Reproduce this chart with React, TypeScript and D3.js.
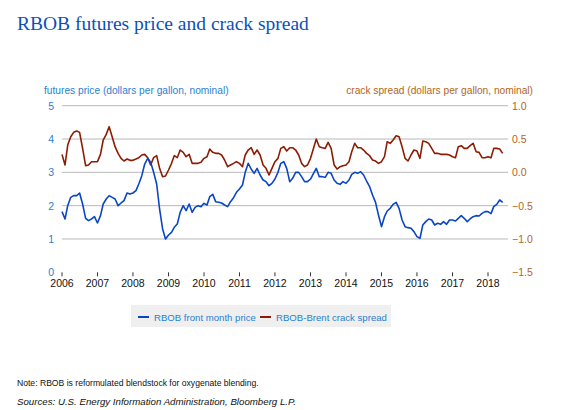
import React from "react";
import * as d3 from "d3";

// monthly values, Jan 2006 – Jun 2018
const rbobPrice: number[] = [
  // 2006
  1.82, 1.6, 2.0, 2.25, 2.3, 2.3, 2.38, 2.05, 1.62, 1.55, 1.6, 1.67,
  // 2007
  1.48, 1.7, 2.05, 2.2, 2.3, 2.25, 2.2, 2.0, 2.08, 2.15, 2.38, 2.35,
  // 2008
  2.38, 2.45, 2.65, 2.9, 3.25, 3.42, 3.3, 3.0, 2.65, 1.9, 1.3, 1.0,
  // 2009
  1.12, 1.2, 1.35, 1.45, 1.8, 2.0, 1.85, 2.05, 1.8, 1.95, 2.0, 1.97,
  // 2010
  2.07, 2.02, 2.27, 2.34, 2.12, 2.1, 2.08, 2.02, 1.97, 2.12, 2.24, 2.4,
  // 2011
  2.5, 2.62, 3.0, 3.27, 3.1, 2.97, 3.12, 2.92, 2.77, 2.72, 2.6, 2.67,
  // 2012
  2.8, 3.0, 3.27, 3.32, 3.12, 2.72, 2.82, 3.0, 3.0, 2.87, 2.72, 2.72,
  // 2013
  2.8, 2.97, 3.12, 2.87, 2.87, 2.85, 3.0, 2.97, 2.77, 2.67, 2.64, 2.72,
  // 2014
  2.67, 2.77, 2.94, 3.0, 2.97, 3.02, 2.92, 2.74, 2.57, 2.32, 2.1, 1.72,
  // 2015
  1.37, 1.67, 1.84, 1.92, 2.04, 2.1, 1.92, 1.57, 1.37, 1.34, 1.32, 1.22,
  // 2016
  1.07, 1.02, 1.42, 1.52, 1.6, 1.57, 1.42, 1.47, 1.44, 1.52, 1.44, 1.57,
  // 2017
  1.57, 1.54, 1.62, 1.7, 1.62, 1.52, 1.6, 1.67, 1.7, 1.69, 1.77, 1.82,
  // 2018
  1.82, 1.76, 1.97, 2.04, 2.17, 2.1,
];

const crackSpread: number[] = [
  // 2006
  0.27, 0.11, 0.41, 0.535, 0.6, 0.62, 0.6, 0.36, 0.1, 0.11, 0.16, 0.16,
  // 2007
  0.16, 0.27, 0.485, 0.57, 0.685, 0.535, 0.385, 0.285, 0.21, 0.17, 0.2, 0.18,
  // 2008
  0.18, 0.2, 0.22, 0.26, 0.27, 0.22, 0.11, 0.22, 0.25, 0.06, -0.065, -0.055,
  // 2009
  0.035, 0.135, 0.25, 0.22, 0.335, 0.3, 0.235, 0.27, 0.135, 0.135, 0.135, 0.15,
  // 2010
  0.21, 0.235, 0.35, 0.3, 0.285, 0.285, 0.26, 0.185, 0.085, 0.11, 0.135, 0.16,
  // 2011
  0.135, 0.085, 0.26, 0.335, 0.37, 0.27, 0.335, 0.26, 0.11, 0.06, -0.04, 0.06,
  // 2012
  0.16, 0.21, 0.36, 0.385, 0.32, 0.37, 0.37, 0.335, 0.26, 0.135, 0.085, 0.11,
  // 2013
  0.21, 0.36, 0.5, 0.385, 0.37, 0.36, 0.45, 0.36, 0.11, 0.05, 0.085, 0.1,
  // 2014
  0.11, 0.16, 0.31, 0.435, 0.37, 0.37, 0.335, 0.285, 0.25, 0.185, 0.17, 0.135,
  // 2015
  0.16, 0.235, 0.46, 0.435, 0.485, 0.55, 0.535, 0.385, 0.21, 0.17, 0.26, 0.335,
  // 2016
  0.32, 0.21, 0.47, 0.46, 0.435, 0.36, 0.285, 0.285, 0.27, 0.27, 0.27, 0.26,
  // 2017
  0.235, 0.22, 0.385, 0.4, 0.36, 0.36, 0.4, 0.435, 0.31, 0.3, 0.22, 0.22,
  // 2018
  0.235, 0.22, 0.36, 0.36, 0.35, 0.285,
];

const yearTicks: number[] = [2006, 2007, 2008, 2009, 2010, 2011, 2012, 2013, 2014, 2015, 2016, 2017, 2018];
const leftTicks: number[] = [0, 1, 2, 3, 4, 5];
const rightTicks: number[] = [-1.5, -1.0, -0.5, 0.0, 0.5, 1.0];

const W = 575;
const H = 410;
const plotLeft = 62;
const plotRight = 508;
const plotTop = 105.7;
const plotBottom = 272.3;

const BLUE_LINE = "#0a46c4";
const RED_LINE = "#8c1c04";
const LEFT_TXT = "#2b7fcf";
const RIGHT_TXT = "#b3661b";
const SANS = "'Liberation Sans', Arial, sans-serif";

export default function App() {
  const x = d3
    .scaleTime()
    .domain([new Date(2006, 0, 1), new Date(2018, 0, 1)])
    .range([62, 488]);
  const yL = d3.scaleLinear().domain([0, 5]).range([plotBottom, plotTop]);
  const yR = d3.scaleLinear().domain([-1.5, 1.0]).range([plotBottom, plotTop]);

  const monthDate = (i: number) => new Date(2006, i, 1);

  const lineL = d3
    .line<number>()
    .x((_, i) => x(monthDate(i)))
    .y((d) => yL(d))
    .curve(d3.curveLinear);
  const lineR = d3
    .line<number>()
    .x((_, i) => x(monthDate(i)))
    .y((d) => yR(d))
    .curve(d3.curveLinear);

  return (
    <div style={{ position: "absolute", left: 0, top: 0 }}>
      <svg width={W} height={H} style={{ display: "block", background: "#fff" }}>
        <text
          x={17}
          y={30}
          fontFamily="'Liberation Serif', 'Times New Roman', serif"
          fontSize={19.5}
          fill="#0b50b8"
        >
          RBOB futures price and crack spread
        </text>

        {/* axis titles */}
        <text x={44} y={94} fontFamily={SANS} fontSize={10.2} fill={LEFT_TXT}>
          futures price (dollars per gallon, nominal)
        </text>
        <text x={533} y={94} fontFamily={SANS} fontSize={10.2} fill={RIGHT_TXT} textAnchor="end">
          crack spread (dollars per gallon, nominal)
        </text>

        {/* gridlines */}
        {leftTicks
          .filter((t) => t > 0)
          .map((t) => (
            <line
              key={"g" + t}
              x1={plotLeft}
              x2={plotRight}
              y1={yL(t)}
              y2={yL(t)}
              stroke="#b8b8b8"
              strokeWidth={1}
            />
          ))}

        {/* left tick labels */}
        {leftTicks.map((t) => (
          <text
            key={"l" + t}
            x={54}
            y={yL(t) + 4}
            textAnchor="end"
            fontFamily={SANS}
            fontSize={10.5}
            fill={LEFT_TXT}
          >
            {d3.format("d")(t)}
          </text>
        ))}

        {/* right tick labels */}
        {rightTicks.map((t) => (
          <text
            key={"r" + t}
            x={512}
            y={yR(t) + 4}
            textAnchor="start"
            fontFamily={SANS}
            fontSize={10.5}
            fill={RIGHT_TXT}
          >
            {d3.format(".1f")(t)}
          </text>
        ))}

        {/* x ticks & labels */}
        {yearTicks.map((yr) => {
          const px = x(new Date(yr, 0, 1));
          return (
            <g key={"x" + yr}>
              <line x1={px} x2={px} y1={plotBottom} y2={plotBottom + 4} stroke="#333" strokeWidth={1} />
              <text
                x={px}
                y={287}
                textAnchor="middle"
                fontFamily={SANS}
                fontSize={10.5}
                fill="#111"
              >
                {yr}
              </text>
            </g>
          );
        })}

        {/* series */}
        <path d={lineR(crackSpread) || ""} fill="none" stroke={RED_LINE} strokeWidth={1.6} strokeLinejoin="round" />
        <path d={lineL(rbobPrice) || ""} fill="none" stroke={BLUE_LINE} strokeWidth={1.6} strokeLinejoin="round" />

        {/* legend */}
        <rect x={131} y={305} width={260} height={22} fill="#efefef" />
        <line x1={138} x2={149} y1={317} y2={317} stroke={BLUE_LINE} strokeWidth={2} />
        <text x={154} y={320.5} fontFamily={SANS} fontSize={9.6} fill={LEFT_TXT}>
          RBOB front month price
        </text>
        <line x1={260} x2={271} y1={317} y2={317} stroke={RED_LINE} strokeWidth={2} />
        <text x={276} y={320.5} fontFamily={SANS} fontSize={9.6} fill={LEFT_TXT}>
          RBOB-Brent crack spread
        </text>

        {/* notes */}
        <text x={17} y={386} fontFamily={SANS} fontSize={8.6} fill="#111">
          Note: RBOB is reformulated blendstock for oxygenate blending.
        </text>
        <text x={17} y={405} fontFamily={SANS} fontSize={9.7} fontStyle="italic" fill="#111">
          Sources: U.S. Energy Information Administration, Bloomberg L.P.
        </text>
      </svg>
    </div>
  );
}
